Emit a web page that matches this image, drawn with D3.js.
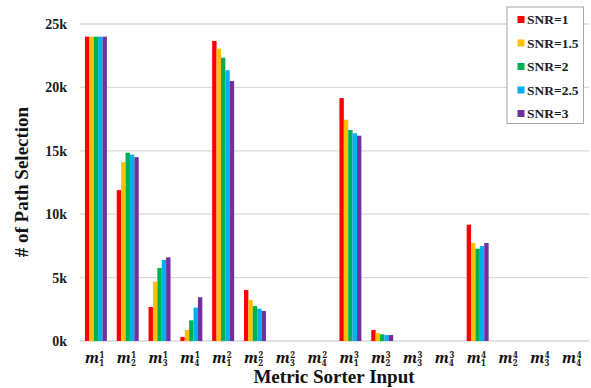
<!DOCTYPE html>
<html>
<head>
<meta charset="utf-8">
<script src="https://cdn.jsdelivr.net/npm/d3@7"></script>
<style>
  html, body { margin: 0; padding: 0; background: #fff; }
  svg { display: block; }
</style>
</head>
<body>
<svg id="chart" width="591" height="388"></svg>
<script>
// Category labels m_sub^sup (metric index as subscript, sorter as superscript)
const catSub = ["1","2","3","4","1","2","3","4","1","2","3","4","1","2","3","4"];
const catSup = ["1","1","1","1","2","2","2","2","3","3","3","3","4","4","4","4"];

const seriesNames = ["SNR=1", "SNR=1.5", "SNR=2", "SNR=2.5", "SNR=3"];
const seriesColors = ["#FF0000", "#FFC000", "#00B050", "#00B0F0", "#7030A0"];

// Number of path selections per category, one array per SNR
const snr1   = [24000, 11900, 2680, 320, 23660, 4020, 0, 0, 19160, 870, 0, 0, 9170, 0, 0, 0];
const snr1_5 = [24000, 14100, 4680, 870, 23050, 3230, 0, 0, 17450, 630, 0, 0, 7730, 0, 0, 0];
const snr2   = [24000, 14850, 5760, 1630, 22340, 2760, 0, 0, 16640, 530, 0, 0, 7280, 0, 0, 0];
const snr2_5 = [24000, 14700, 6390, 2630, 21350, 2550, 0, 0, 16380, 470, 0, 0, 7490, 0, 0, 0];
const snr3   = [24000, 14500, 6600, 3450, 20500, 2370, 0, 0, 16190, 470, 0, 0, 7730, 0, 0, 0];

const yTicks = [0, 5000, 10000, 15000, 20000, 25000];
const yTickLabels = ["0k", "5k", "10k", "15k", "20k", "25k"];

const series = [snr1, snr1_5, snr2, snr2_5, snr3];
const cats = catSub.map((s, i) => i);

(function draw() {
  const svg = d3.select("#chart");
  const pLeft = 80, pRight = 589, pTop = 24, pBottom = 341;
  const serif = '"Liberation Serif"';
  const mathFont = '"Noto Serif"';

  const x = d3.scaleBand().domain(cats).range([pLeft, pRight]).paddingInner(0.31).paddingOuter(0.155);
  const xs = d3.scaleBand().domain(d3.range(series.length)).range([0, x.bandwidth()]);
  const y = d3.scaleLinear().domain([0, 25000]).range([pBottom, pTop]);

  // Horizontal gridlines
  svg.append("g").selectAll("line").data(yTicks).join("line")
    .attr("x1", pLeft).attr("x2", pRight)
    .attr("y1", d => y(d)).attr("y2", d => y(d))
    .attr("stroke", "#d9d9d9").attr("stroke-width", 1.3);

  // Y tick labels
  svg.append("g").selectAll("text").data(yTicks).join("text")
    .attr("x", 67).attr("y", d => y(d)).attr("dy", "0.35em")
    .attr("text-anchor", "end")
    .style("font-family", serif).style("font-weight", "bold").style("font-size", "14px")
    .attr("fill", "#1a1a1a")
    .text((d, i) => yTickLabels[i]);

  // Bars
  series.forEach((vals, si) => {
    svg.append("g").selectAll("rect").data(vals).join("rect")
      .attr("x", (d, i) => x(i) + xs(si))
      .attr("width", xs.bandwidth())
      .attr("y", d => y(d))
      .attr("height", d => y(0) - y(d))
      .attr("fill", seriesColors[si]);
  });

  // Category labels: italic m with stacked superscript / subscript
  const lab = svg.append("g");
  cats.forEach(i => {
    const t = lab.append("text")
      .attr("x", x(i) + x.bandwidth() / 2 - 11).attr("y", 363)
      .style("font-family", mathFont).style("font-weight", "bold")
      .attr("fill", "#111");
    t.append("tspan").style("font-style", "italic").style("font-size", "14.5px").text("m");
    t.append("tspan").attr("dx", 0.5).attr("dy", -5).style("font-size", "8.5px").text(catSup[i]);
    t.append("tspan").attr("dx", -5.1).attr("dy", 7.6).style("font-size", "8.5px").text(catSub[i]);
  });

  // Axis titles
  svg.append("text")
    .attr("x", 334).attr("y", 383)
    .attr("text-anchor", "middle")
    .style("font-family", serif).style("font-weight", "bold").style("font-size", "19px")
    .attr("fill", "#111")
    .text("Metric Sorter Input");

  svg.append("text")
    .attr("transform", "translate(28,182) rotate(-90)")
    .attr("text-anchor", "middle")
    .style("font-family", serif).style("font-weight", "bold").style("font-size", "19px")
    .attr("fill", "#111")
    .text("# of Path Selection");

  // Legend
  const lg = svg.append("g");
  lg.append("rect")
    .attr("x", 507).attr("y", 7).attr("width", 76.5).attr("height", 116.5)
    .attr("fill", "#fff").attr("stroke", "#a6a6a6").attr("stroke-width", 1);
  seriesNames.forEach((name, i) => {
    const ly = 19.5 + i * 23.5;
    lg.append("rect")
      .attr("x", 517.5).attr("y", ly - 3.5).attr("width", 7).attr("height", 7)
      .attr("fill", seriesColors[i]);
    lg.append("text")
      .attr("x", 527).attr("y", ly).attr("dy", "0.35em")
      .style("font-family", serif).style("font-weight", "bold").style("font-size", "13.5px")
      .attr("fill", "#1a1a1a")
      .text(name);
  });
})();
</script>
</body>
</html>
